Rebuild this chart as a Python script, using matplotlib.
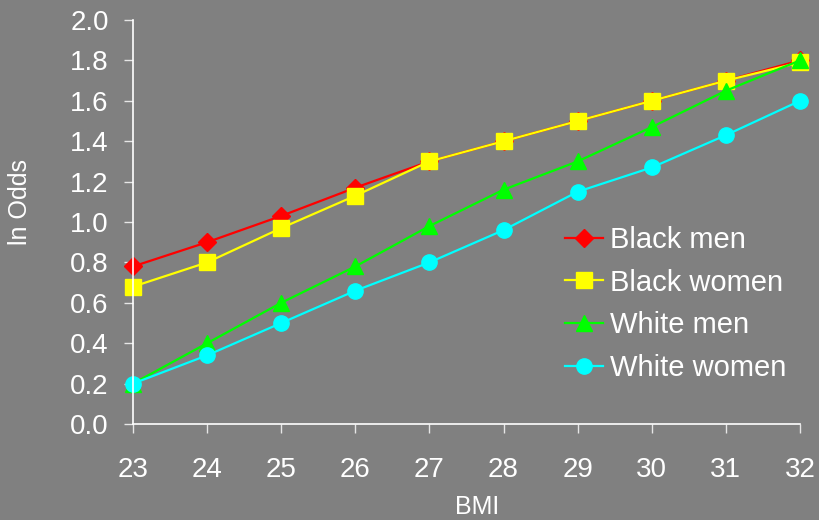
import matplotlib
matplotlib.use("Agg")
import matplotlib.pyplot as plt

plt.rcParams["font.family"] = ["Liberation Sans", "DejaVu Sans"]

bmi = [23, 24, 25, 26, 27, 28, 29, 30, 31, 32]
black_men = [0.78, 0.90, 1.03, 1.17, 1.30, 1.40, 1.50, 1.60, 1.70, 1.80]
black_women = [0.68, 0.80, 0.97, 1.13, 1.30, 1.40, 1.50, 1.60, 1.70, 1.79]
white_men = [0.20, 0.40, 0.60, 0.78, 0.98, 1.16, 1.30, 1.47, 1.65, 1.80]
white_women = [0.20, 0.34, 0.50, 0.66, 0.80, 0.96, 1.15, 1.27, 1.43, 1.60]

BG = "#808080"
FG = "white"

fig = plt.figure(figsize=(8.19, 5.20), dpi=100, facecolor=BG)
ax = fig.add_axes([0.1624, 0.1846, 0.8144, 0.7769])
ax.set_facecolor(BG)

series = [
    ("Black men", black_men, "#FF0000", "D", 9.5),
    ("Black women", black_women, "#FFFF00", "s", 11),
    ("White men", white_men, "#00FF00", "^", 11),
    ("White women", white_women, "#00FFFF", "o", 11),
]
for label, vals, color, marker, ms in series:
    ax.plot(bmi, vals, color=color, marker=marker, markersize=ms, linewidth=1.6,
            markeredgecolor=color, label=label, clip_on=False)

ax.set_xlim(23, 32)
ax.set_ylim(0, 2.0)
ax.set_xticks(bmi)
ax.set_yticks([i / 10 for i in range(0, 21, 2)])
ax.yaxis.set_major_formatter(matplotlib.ticker.FormatStrFormatter("%.1f"))

for side in ["top", "right"]:
    ax.spines[side].set_visible(False)
for side in ["left", "bottom"]:
    ax.spines[side].set_color(FG)
    ax.spines[side].set_linewidth(1.2)

ax.tick_params(axis="y", colors="#e6e6e6", labelcolor=FG, length=6.5, width=1,
               labelsize=20, pad=11)
ax.tick_params(axis="x", colors="#e6e6e6", labelcolor=FG, length=6.5, width=1,
               labelsize=20, pad=17)

ax.set_xlabel("BMI", color=FG, fontsize=18)
ax.set_ylabel("ln Odds", color=FG, fontsize=18)
ax.xaxis.set_label_coords(0.516, -0.176)
ax.yaxis.set_label_coords(-0.151, 0.55)

leg = ax.legend(loc="upper left", bbox_to_anchor=(565 / 819, 1 - 226 / 520),
                bbox_transform=fig.transFigure, frameon=False, fontsize=21,
                borderpad=0, borderaxespad=0, labelspacing=0.5,
                handlelength=1.3, handletextpad=0.25)
for t in leg.get_texts():
    t.set_color(FG)

fig.savefig("out.png", dpi=100, facecolor=BG)
